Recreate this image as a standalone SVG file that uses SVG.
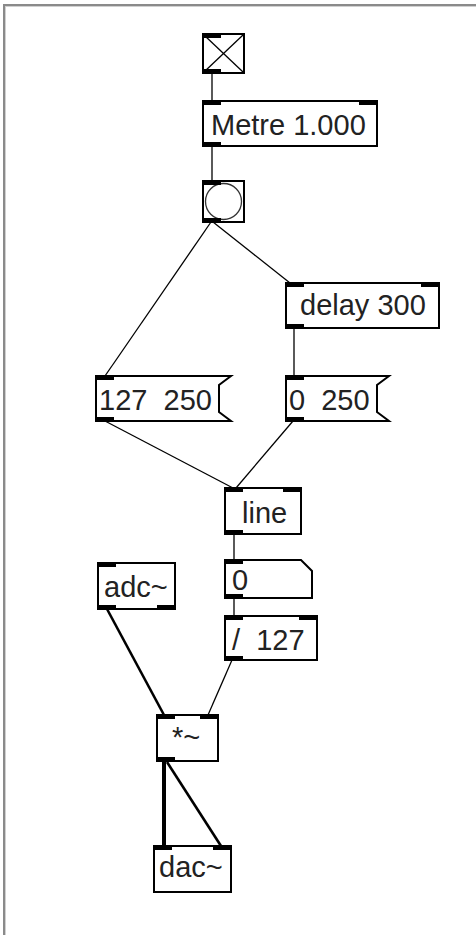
<svg xmlns="http://www.w3.org/2000/svg" width="476" height="935" viewBox="0 0 476 935">
<style>
.box{fill:#fff;stroke:#000;stroke-width:2}
.io{fill:#000}
.t{font-family:"Liberation Sans",Arial,sans-serif;font-size:29px;fill:#222}
.c{stroke:#000;stroke-width:1.3;fill:none}
.s{stroke:#000;stroke-width:2.6;fill:none}
</style>
<rect x="0" y="0" width="476" height="935" fill="#fff"/>
<g id="frame">
<line x1="3" y1="5" x2="476" y2="5" stroke="#8a8a8a" stroke-width="2"/>
<line x1="4" y1="4" x2="4" y2="935" stroke="#8a8a8a" stroke-width="2"/>
<line x1="6" y1="6.5" x2="476" y2="6.5" stroke="#d0d0d0" stroke-width="1"/>
<line x1="5.5" y1="6" x2="5.5" y2="935" stroke="#d0d0d0" stroke-width="1"/>
</g>
<g id="connectors">
<line class="c" x1="212" y1="73" x2="212" y2="101"/>
<line class="c" x1="212" y1="146" x2="212" y2="181"/>
<line class="c" x1="211" y1="222" x2="105" y2="376"/>
<line class="c" x1="213" y1="222" x2="290" y2="283"/>
<line class="c" x1="294" y1="328" x2="294" y2="376"/>
<line class="c" x1="105" y1="421" x2="233" y2="488"/>
<line class="c" x1="293" y1="421" x2="236" y2="488"/>
<line class="c" x1="234" y1="534" x2="234" y2="560"/>
<line class="c" x1="234" y1="598" x2="234" y2="616"/>
<line class="s" x1="107" y1="609" x2="164" y2="715"/>
<line class="c" x1="232" y1="660" x2="208" y2="715"/>
<line x1="164" y1="761" x2="164" y2="846" stroke="#000" stroke-width="4"/>
<line class="s" x1="167" y1="762" x2="221" y2="846"/>
</g>
<g id="toggle">
<rect class="box" x="203" y="34" width="41" height="39"/>
<line x1="204" y1="35" x2="243" y2="72" stroke="#000" stroke-width="1.3"/>
<line x1="243" y1="35" x2="204" y2="72" stroke="#000" stroke-width="1.3"/>
<rect class="io" x="203" y="34" width="18" height="4"/>
<rect class="io" x="203" y="69" width="18" height="4"/>
</g>
<g id="metro">
<rect class="box" x="203" y="101" width="174" height="45"/>
<rect class="io" x="203" y="101" width="18" height="4"/>
<rect class="io" x="359" y="101" width="18" height="4"/>
<rect class="io" x="203" y="142" width="18" height="4"/>
<text class="t" x="211" y="135">Metre 1.000</text>
</g>
<g id="bang">
<rect class="box" x="203" y="181" width="41" height="41"/>
<circle cx="223.5" cy="201.5" r="18" fill="#fff" stroke="#333" stroke-width="1.3"/>
<rect class="io" x="203" y="181" width="18" height="4"/>
<rect class="io" x="203" y="218" width="18" height="4"/>
</g>
<g id="delay">
<rect class="box" x="286" y="283" width="153" height="45"/>
<rect class="io" x="286" y="283" width="18" height="4"/>
<rect class="io" x="421" y="283" width="18" height="4"/>
<rect class="io" x="286" y="324" width="18" height="4"/>
<text class="t" x="300" y="315">delay 300</text>
</g>
<g id="msg1">
<path class="box" d="M96,376 H231 L219,385 V412 L231,421 H96 Z"/>
<rect class="io" x="96" y="376" width="18" height="4"/>
<rect class="io" x="96" y="417" width="18" height="4"/>
<text class="t" x="99" y="410" xml:space="preserve">127  250</text>
</g>
<g id="msg2">
<path class="box" d="M286,376 H389 L377,385 V412 L389,421 H286 Z"/>
<rect class="io" x="286" y="376" width="18" height="4"/>
<rect class="io" x="286" y="417" width="18" height="4"/>
<text class="t" x="289" y="410" xml:space="preserve">0  250</text>
</g>
<g id="line">
<rect class="box" x="225" y="488" width="76" height="46"/>
<rect class="io" x="225" y="488" width="18" height="4"/>
<rect class="io" x="283" y="488" width="18" height="4"/>
<rect class="io" x="225" y="530" width="18" height="4"/>
<text class="t" x="242" y="523">line</text>
</g>
<g id="number">
<path class="box" d="M225,560 H301 L312,571 V598 H225 Z"/>
<rect class="io" x="225" y="560" width="18" height="4"/>
<rect class="io" x="225" y="594" width="18" height="4"/>
<text class="t" x="232" y="590">0</text>
</g>
<g id="adc">
<rect class="box" x="98" y="563" width="77" height="46"/>
<rect class="io" x="98" y="563" width="18" height="4"/>
<rect class="io" x="98" y="605" width="18" height="4"/>
<rect class="io" x="157" y="605" width="18" height="4"/>
<text class="t" x="104" y="597">adc~</text>
</g>
<g id="div">
<rect class="box" x="225" y="616" width="92" height="44"/>
<rect class="io" x="225" y="616" width="18" height="4"/>
<rect class="io" x="299" y="616" width="18" height="4"/>
<rect class="io" x="225" y="656" width="18" height="4"/>
<text class="t" x="232" y="650" xml:space="preserve">/  127</text>
</g>
<g id="mul">
<rect class="box" x="157" y="715" width="61" height="46"/>
<rect class="io" x="157" y="715" width="18" height="4"/>
<rect class="io" x="200" y="715" width="18" height="4"/>
<rect class="io" x="157" y="757" width="18" height="4"/>
<text class="t" x="172" y="747">*~</text>
</g>
<g id="dac">
<rect class="box" x="154" y="846" width="77" height="46"/>
<rect class="io" x="154" y="846" width="18" height="4"/>
<rect class="io" x="213" y="846" width="18" height="4"/>
<text class="t" x="159" y="877">dac~</text>
</g>
</svg>
